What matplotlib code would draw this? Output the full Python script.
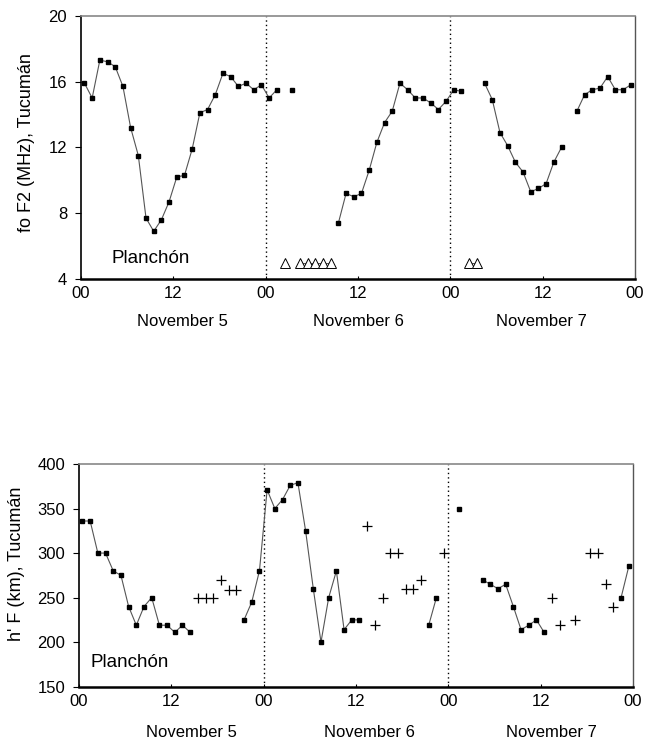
import numpy as np
import matplotlib
matplotlib.use("Agg")
import matplotlib.pyplot as plt

plt.rcParams['font.family'] = ['Liberation Sans', 'DejaVu Sans']

nan = np.nan
# hours since 00 UT Nov 5 (hourly values)
hours = np.arange(72)

fof2 = [15.9, 15.0, 17.3, 17.2, 16.9, 15.7, 13.2, 11.5, 7.7, 6.9, 7.6, 8.7,
        10.2, 10.3, 11.9, 14.1, 14.3, 15.2, 16.5, 16.3, 15.7, 15.9, 15.5, 15.8,
        15.0, 15.5, nan, 15.5, nan, nan, nan, nan, nan, 7.4, 9.2, 9.0,
        9.2, 10.6, 12.3, 13.5, 14.2, 15.9, 15.5, 15.0, 15.0, 14.7, 14.3, 14.8,
        15.5, 15.4, nan, nan, 15.9, 14.9, 12.9, 12.1, 11.1, 10.5, 9.3, 9.5,
        9.8, 11.1, 12.0, nan, 14.2, 15.2, 15.5, 15.6, 16.3, 15.5, 15.5, 15.8]

# open triangles (blanketing / no-reflection markers)
tri = [nan] * 72
for h in [26, 28, 29, 30, 31, 32, 50, 51]:
    tri[h] = 5.0

hf = [336, 336, 300, 300, 280, 275, 240, 219, 240, 250, 219, 219,
      211, 219, 211, nan, nan, nan, nan, nan, nan, 225, 245, 280,
      371, 350, 360, 376, 379, 325, 260, 200, 250, 280, 214, 225,
      225, nan, nan, nan, nan, nan, nan, nan, nan, 219, 250, nan,
      nan, 350, nan, nan, 270, 265, 260, 265, 240, 214, 219, 225,
      211, nan, nan, nan, nan, nan, nan, nan, nan, nan, 250, 285]

cross_hours = [15, 16, 17, 18, 19, 20, 37, 38, 39, 40, 41, 42, 43, 44, 47,
               61, 62, 64, 66, 67, 68, 69]
cross_vals = [250, 250, 250, 270, 259, 259, 330, 219, 250, 300, 300, 260, 260,
              270, 300, 250, 219, 225, 300, 300, 265, 240]

xtick_pos = [0, 12, 24, 36, 48, 60, 72]
xtick_labels = ["00", "12", "00", "12", "00", "12", "00"]
day_labels = ["November 5", "November 6", "November 7"]

OFF = 0.45  # hourly samples plotted slightly after the hour

fig = plt.figure(figsize=(6.55, 7.43), dpi=100)
ax1 = fig.add_axes([81/655, 1-279/743, 554/655, 263.3/743])
ax2 = fig.add_axes([79/655, 1-686.7/743, 554/655, 222.7/743])

line_kw = dict(color='#555555', lw=0.8, marker='s', ms=3.2,
               mfc='black', mec='black', zorder=3)

def style(ax, ylim, yticks, ylabel, labx, laby, daypos, dayoff):
    ax.set_xlim(0, 72)
    ax.set_ylim(*ylim)
    ax.set_yticks(yticks)
    ax.set_xticks(xtick_pos)
    ax.set_xticklabels(xtick_labels)
    ax.tick_params(axis='y', direction='out', length=4, width=0.8, pad=6,
                   labelsize=12)
    ax.tick_params(axis='x', direction='in', length=2.5, width=0.8, pad=5,
                   labelsize=12)
    ax.spines['left'].set_linewidth(1.2)
    ax.spines['bottom'].set_linewidth(1.8)
    ax.spines['top'].set_color('#888888')
    ax.spines['top'].set_linewidth(1.2)
    ax.spines['right'].set_color('#555555')
    ax.spines['right'].set_linewidth(1.0)
    for d in (24, 48):
        ax.axvline(d, color='black', lw=1.0, ls=(0, (1, 2.2)), zorder=1)
    ax.set_ylabel(ylabel, fontsize=13)
    ax.yaxis.set_label_coords(labx, laby)
    for lab, xp in zip(day_labels, daypos):
        ax.annotate(lab, xy=(xp, 0), xycoords=('data', 'axes fraction'),
                    xytext=(0, -dayoff), textcoords='offset pixels',
                    ha='center', va='center', fontsize=12)

# top panel
ax1.plot(hours + OFF, fof2, **line_kw)
ax1.plot(hours + OFF, tri, color='#555555', lw=0.7, marker='^', ms=7.5,
         mfc='white', mec='black', mew=0.7, zorder=3)
ax1.text(4.0, 5.25, "Planchón", fontsize=13.5, ha='left', va='center')
style(ax1, (4, 20), [4, 8, 12, 16, 20], "fo F2 (MHz), Tucumán",
      -0.083, 0.52, [13.2, 36.0, 59.8], 43)

# bottom panel
ax2.plot(hours + OFF, hf, **line_kw)
ax2.plot(np.array(cross_hours) + OFF, cross_vals, ls='none', marker='+',
         ms=7, mew=0.9, color='black', zorder=3)
ax2.text(1.5, 177, "Planchón", fontsize=13.5, ha='left', va='center')
style(ax2, (150, 400), [150, 200, 250, 300, 350, 400], "h' F (km), Tucumán",
      -0.0975, 0.55, [14.6, 37.8, 61.4], 46)

fig.savefig("out.png", dpi=100)
